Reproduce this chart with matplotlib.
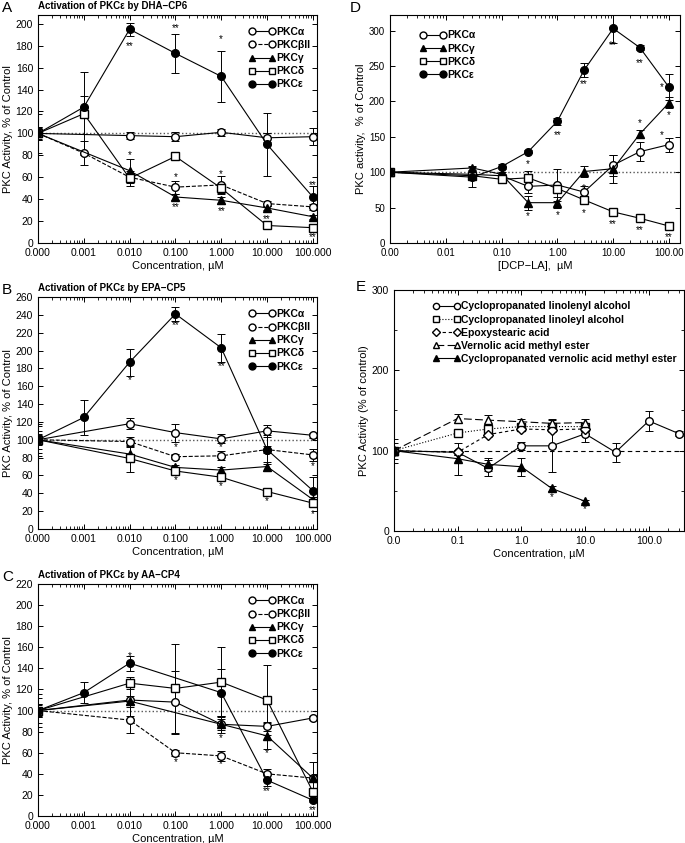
import matplotlib
matplotlib.use('Agg')
import matplotlib.pyplot as plt
from matplotlib.lines import Line2D
from matplotlib.ticker import FixedLocator, FixedFormatter, LogLocator, NullFormatter, MultipleLocator

plt.rcParams['font.family'] = ['Liberation Sans', 'DejaVu Sans']
plt.rcParams['font.size'] = 7.5

# ---- data: panels A-C (control plotted at 1e-4) ----
conc_abc = [1e-4, 1e-3, 1e-2, 1e-1, 1, 10, 100]
abc_ticks = ['0.000', '0.001', '0.010', '0.100', '1.000', '10.000', '100.000']

# panel A: DHA-CP6
a_alpha = [100, None, 98, 97, 101, 96, 97]
a_alpha_err = [6, 0, 3, 4, 3, 4, 8]
a_beta = [100, 82, 60, 51, 53, 36, 33]
a_beta_err = [6, 11, 4, 6, 8, 2, 3]
a_gamma = [100, None, 66, 42, 39, 32, 24]
a_gamma_err = [18, 0, 11, 3, 3, 2, 2]
a_delta = [100, 118, 59, 79, 50, 16, 14]
a_delta_err = [20, 38, 7, 2, 4, 1, 1]
a_eps = [100, 124, 195, 173, 152, 90, 42]
a_eps_err = [5, 10, 6, 18, 23, 29, 10]
a_stars = [(0.01, 180, '**'), (0.1, 196, '**'), (1, 186, '*'), (0.01, 80, '*'),
           (0.1, 60, '*'), (0.1, 33, '**'), (1, 63, '*'), (1, 29, '**'),
           (10, 22, '**'), (100, 53, '**'), (100, 5, '**')]

# panel B: EPA-CP5
b_alpha = [100, None, 118, 108, 101, 110, 105]
b_alpha_err = [15, 0, 6, 10, 5, 7, 3]
b_beta = [100, None, 98, 81, 82, 89, 83]
b_beta_err = [6, 0, 5, 3, 5, 4, 7]
b_gamma = [100, None, 84, 69, 66, 70, 33]
b_gamma_err = [10, 0, 8, 3, 4, 5, 3]
b_delta = [100, None, 79, 65, 58, 42, 29]
b_delta_err = [18, 0, 15, 2, 2, 2, 3]
b_eps = [100, 125, 187, 241, 203, 89, 43]
b_eps_err = [5, 20, 15, 8, 16, 16, 15]
b_stars = [(0.01, 167, '*'), (0.1, 228, '**'), (1, 183, '**'), (0.1, 92, '*'),
           (0.1, 55, '*'), (1, 92, '*'), (1, 48, '*'), (10, 31, '*'),
           (100, 70, '*'), (100, 17, '*')]

# panel C: AA-CP4
c_alpha = [100, None, 110, 108, 87, 85, 93]
c_alpha_err = [6, 0, 4, 30, 5, 4, 2]
c_beta = [100, None, 91, 60, 57, 40, 36]
c_beta_err = [6, 0, 12, 3, 5, 5, 3]
c_gamma = [100, None, 109, None, 87, 76, 36]
c_gamma_err = [16, 0, 14, 0, 8, 12, 15]
c_delta = [100, None, 126, 121, 127, 110, 23]
c_delta_err = [12, 0, 6, 42, 33, 33, 3]
c_eps = [100, 117, 145, None, 117, 34, 15]
c_eps_err = [5, 10, 7, 0, 22, 6, 2]
c_stars = [(0.01, 152, '*'), (0.1, 51, '*'), (1, 74, '*'), (1, 49, '*'),
           (10, 60, '*'), (10, 24, '**'), (100, 6, '**')]

# ---- panel D: DCP-LA (control plotted at 1e-3) ----
conc_d = [1e-3, 0.03, 0.1, 0.3, 1, 3, 10, 30, 100]
d_ticks = ['0.00', '0.01', '0.10', '1.00', '10.00', '100.00']
d_alpha = [100, 97, 95, 80, 82, 72, 110, 129, 139]
d_alpha_err = [3, 4, 3, 10, 22, 8, 15, 13, 10]
d_gamma = [100, 106, 97, 57, 57, 101, 105, 154, 198]
d_gamma_err = [3, 3, 3, 10, 8, 8, 20, 5, 8]
d_delta = [100, 95, 90, 92, 77, 61, 44, 35, 24]
d_delta_err = [3, 3, 2, 10, 3, 3, 2, 2, 2]
d_eps = [100, 93, 108, 129, 172, 244, 303, 276, 220]
d_eps_err = [3, 14, 3, 2, 5, 10, 20, 4, 18]
d_stars = [(0.3, 112, '*'), (1, 152, '**'), (3, 224, '**'), (10, 280, '**'),
           (30, 254, '**'), (75, 220, '*'), (0.3, 38, '*'), (1, 40, '*'),
           (3, 78, '*'), (30, 170, '*'), (100, 180, '*'), (75, 152, '*'),
           (3, 42, '*'), (10, 27, '**'), (30, 18, '**'), (100, 8, '**')]

# ---- panel E (control plotted at 0.01) ----
e_ticks = ['0.0', '0.1', '1.0', '10.0', '100.0']
e_conc1 = [0.01, 0.1, 0.3, 1, 3, 10, 30, 100, 300]
e_linolenyl = [100, 98, 78, 106, 106, 121, 98, 137, 121]
e_linolenyl_err = [15, 3, 10, 5, 33, 10, 12, 12, 3]
e_conc2 = [0.01, 0.1, 0.3, 1, 3, 10]
e_linoleyl = [100, 122, 127, 130, 130, 130]
e_linoleyl_err = [3, 3, 5, 3, 3, 3]
e_epoxy = [100, 98, 120, 127, 126, 127]
e_epoxy_err = [3, 3, 3, 3, 3, 3]
e_vernolic = [100, 140, 138, 136, 134, 135]
e_vernolic_err = [3, 6, 7, 4, 4, 4]
e_cpvernolic = [100, 90, 83, 80, 53, 37]
e_cpvernolic_err = [10, 20, 8, 11, 3, 2]
e_stars = [(3, 42, '*'), (10, 27, '*')]

fig = plt.figure(figsize=(6.85, 8.43), dpi=100)

MS = 5.5


def series(ax, x, y, err, marker, fc, ls):
    xs = [xi for xi, yi in zip(x, y) if yi is not None]
    ys = [yi for yi in y if yi is not None]
    es = [ei for ei, yi in zip(err, y) if yi is not None]
    ax.errorbar(xs, ys, yerr=es, color='black', marker=marker, mfc=fc, mec='black',
                ms=MS, lw=0.8, ls=ls, capsize=3, elinewidth=0.7, capthick=0.7)


def style_axis(ax, xlim, ylim, majors, labels, ystep, size=7.5):
    ax.set_xscale('log')
    ax.set_xlim(*xlim)
    ax.set_ylim(*ylim)
    ax.xaxis.set_major_locator(FixedLocator(majors))
    ax.xaxis.set_major_formatter(FixedFormatter(labels))
    ax.xaxis.set_minor_locator(LogLocator(base=10, subs=range(2, 10), numticks=20))
    ax.xaxis.set_minor_formatter(NullFormatter())
    ax.yaxis.set_major_locator(MultipleLocator(ystep))
    ax.tick_params(which='both', direction='in', top=True, right=True, labelsize=size)
    ax.tick_params(which='major', length=3.5, width=0.7)
    ax.tick_params(which='minor', length=2, width=0.6)
    for s in ax.spines.values():
        s.set_linewidth(0.8)


def stars(ax, lst):
    for x, y, t in lst:
        ax.text(x, y, t, ha='center', va='center', fontsize=7)


specs = {'α': ('o', 'white', '-'), 'βII': ('o', 'white', '--'),
         'γ': ('^', 'black', '-'), 'δ': ('s', 'white', '-'), 'ε': ('o', 'black', '-')}


def legend_handles(labels):
    handles = []
    for lab in labels:
        m, fc, ls = specs[lab]
        handles.append(Line2D([0], [0], color='black', marker=m, mfc=fc, mec='black',
                              ms=5, lw=0.8, ls=ls))
    return handles


panel_abc = [
    ('A', [0.0555, 0.7117, 0.407, 0.2705], 'Activation of PKCε by DHA−CP6', (0, 208), 20,
     [a_alpha, a_beta, a_gamma, a_delta, a_eps],
     [a_alpha_err, a_beta_err, a_gamma_err, a_delta_err, a_eps_err], a_stars),
    ('B', [0.0555, 0.3725, 0.407, 0.2752], 'Activation of PKCε by EPA−CP5', (0, 260), 20,
     [b_alpha, b_beta, b_gamma, b_delta, b_eps],
     [b_alpha_err, b_beta_err, b_gamma_err, b_delta_err, b_eps_err], b_stars),
    ('C', [0.0555, 0.032, 0.407, 0.2752], 'Activation of PKCε by AA−CP4', (0, 220), 20,
     [c_alpha, c_beta, c_gamma, c_delta, c_eps],
     [c_alpha_err, c_beta_err, c_gamma_err, c_delta_err, c_eps_err], c_stars),
]

names_abc = ['α', 'βII', 'γ', 'δ', 'ε']

for letter, pos, title, ylim, ystep, ys, errs, st in panel_abc:
    ax = fig.add_axes(pos)
    ax.axhline(100, color='#555555', ls=':', lw=1.0, zorder=0)
    for y, e, n in zip(ys, errs, names_abc):
        m, fc, ls = specs[n]
        series(ax, conc_abc, y, e, m, fc, ls)
    stars(ax, st)
    style_axis(ax, (1e-4, 122), ylim, conc_abc, abc_ticks, ystep)
    ax.set_xlabel('Concentration, µM', fontsize=8, labelpad=2)
    ax.set_ylabel('PKC Activity, % of Control', fontsize=8, labelpad=2)
    ax.text(0.0, 1.025, title, transform=ax.transAxes, fontsize=7, fontweight='bold')
    ax.text(-0.13, 1.0, letter, transform=ax.transAxes, fontsize=11, va='bottom')
    ax.legend(legend_handles(names_abc), ['PKC' + n for n in names_abc], loc='upper right',
              frameon=False, numpoints=2, handlelength=2.6, handletextpad=0.1,
              labelspacing=0.3, prop={'weight': 'bold', 'size': 7.5},
              bbox_to_anchor=(1.0, 0.975), borderaxespad=0.2)

# ---- panel D ----
axd = fig.add_axes([0.5693, 0.7117, 0.4233, 0.2705])
axd.axhline(100, color='#555555', ls=':', lw=1.0, zorder=0)
names_d = ['α', 'γ', 'δ', 'ε']
for y, e, n in zip([d_alpha, d_gamma, d_delta, d_eps],
                   [d_alpha_err, d_gamma_err, d_delta_err, d_eps_err], names_d):
    m, fc, ls = specs[n]
    series(axd, conc_d, y, e, m, fc, ls)
stars(axd, d_stars)
style_axis(axd, (1e-3, 157), (0, 322), [1e-3, 1e-2, 1e-1, 1, 10, 100], d_ticks, 50, size=7)
axd.set_xlabel('[DCP−LA],  µM', fontsize=8, labelpad=2)
axd.set_ylabel('PKC activity,  % of Control', fontsize=8, labelpad=2)
axd.text(-0.14, 1.0, 'D', transform=axd.transAxes, fontsize=11, va='bottom')
axd.legend(legend_handles(names_d), ['PKC' + n for n in names_d], loc='upper left',
           frameon=False, numpoints=2, handlelength=2.6, handletextpad=0.1,
           labelspacing=0.3, prop={'weight': 'bold', 'size': 7.5},
           bbox_to_anchor=(0.08, 0.96), borderaxespad=0.2)

# ---- panel E ----
axe = fig.add_axes([0.575, 0.3701, 0.4234, 0.2859])
axe.axhline(100, color='black', ls=(0, (4, 3)), lw=0.8, zorder=0)
e_sets = [
    (e_conc1, e_linolenyl, e_linolenyl_err, 'o', 'white', '-', 'Cyclopropanated linolenyl alcohol'),
    (e_conc2, e_linoleyl, e_linoleyl_err, 's', 'white', ':', 'Cyclopropanated linoleyl alcohol'),
    (e_conc2, e_epoxy, e_epoxy_err, 'D', 'white', (0, (3, 2.5)), 'Epoxystearic acid'),
    (e_conc2, e_vernolic, e_vernolic_err, '^', 'white', (0, (7, 3)), 'Vernolic acid methyl ester'),
    (e_conc2, e_cpvernolic, e_cpvernolic_err, '^', 'black', '-', 'Cyclopropanated vernolic acid methyl ester'),
]
handles_e = []
for x, y, e, m, fc, ls, lab in e_sets:
    ms = 4.8 if m == 'D' else MS
    axe.errorbar(x, y, yerr=e, color='black', marker=m, mfc=fc, mec='black', ms=ms,
                 lw=0.8, ls=ls, capsize=3, elinewidth=0.7, capthick=0.7)
    handles_e.append(Line2D([0], [0], color='black', marker=m, mfc=fc, mec='black',
                            ms=4.5, lw=0.8, ls=ls))
stars(axe, e_stars)
style_axis(axe, (0.01, 355), (0, 300), [0.01, 0.1, 1, 10, 100], e_ticks, 100)
axe.yaxis.set_minor_locator(MultipleLocator(50))
axe.set_xlabel('Concentration, µM', fontsize=8, labelpad=2)
axe.set_ylabel('PKC Activity (% of control)', fontsize=8, labelpad=2)
axe.text(-0.13, 0.985, 'E', transform=axe.transAxes, fontsize=11, va='bottom')
axe.legend(handles_e, [s[-1] for s in e_sets], loc='upper left', frameon=False,
           numpoints=2, handlelength=2.6, handletextpad=0.1, labelspacing=0.3,
           prop={'weight': 'bold', 'size': 7.5}, bbox_to_anchor=(0.12, 0.97),
           borderaxespad=0.0)

fig.savefig('out.png', dpi=100)
